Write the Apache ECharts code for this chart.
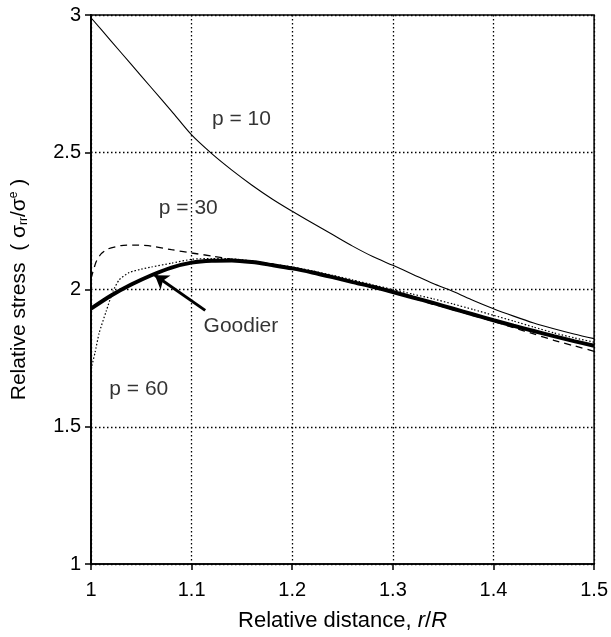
<!DOCTYPE html>
<html>
<head>
<meta charset="utf-8">
<script src="https://cdn.jsdelivr.net/npm/echarts@6/dist/echarts.min.js"></script>
<style>html,body{margin:0;padding:0;background:#fff;}#chart{width:611px;height:637px;}</style>
</head>
<body>
<div id="chart"></div>
<script>
// ---- data ----
var xTicks = [1, 1.1, 1.2, 1.3, 1.4, 1.5];
var yTicks = [1, 1.5, 2, 2.5, 3];

var p10X = [1.00, 1.02, 1.04, 1.06, 1.08, 1.10, 1.12, 1.14, 1.16, 1.18, 1.20, 1.22, 1.24, 1.26, 1.28, 1.30, 1.32, 1.34, 1.36, 1.38, 1.40, 1.42, 1.44, 1.46, 1.48, 1.50];
var p10Y = [2.99, 2.905, 2.82, 2.735, 2.65, 2.563, 2.495, 2.435, 2.38, 2.33, 2.285, 2.242, 2.20, 2.158, 2.12, 2.088, 2.055, 2.022, 1.993, 1.96, 1.93, 1.903, 1.878, 1.857, 1.838, 1.821];

var goodierX = [1.00, 1.02, 1.04, 1.06, 1.08, 1.10, 1.12, 1.14, 1.16, 1.18, 1.20, 1.22, 1.24, 1.26, 1.28, 1.30, 1.32, 1.34, 1.36, 1.38, 1.40, 1.42, 1.44, 1.46, 1.48, 1.50];
var goodierY = [1.93, 1.978, 2.018, 2.052, 2.08, 2.098, 2.105, 2.106, 2.1, 2.089, 2.077, 2.062, 2.045, 2.027, 2.01, 1.991, 1.971, 1.951, 1.93, 1.909, 1.888, 1.868, 1.849, 1.83, 1.812, 1.795];

var p30X = [1.000, 1.005, 1.010, 1.017, 1.03, 1.045, 1.06, 1.08, 1.10, 1.12, 1.14, 1.16, 1.18, 1.20, 1.22, 1.24, 1.26, 1.28, 1.30, 1.32, 1.34, 1.36, 1.38, 1.40, 1.42, 1.44, 1.46, 1.48, 1.50];
var p30Y = [2.04, 2.10, 2.13, 2.148, 2.16, 2.162, 2.158, 2.145, 2.133, 2.122, 2.11, 2.099, 2.088, 2.076, 2.061, 2.044, 2.026, 2.008, 1.99, 1.968, 1.947, 1.926, 1.905, 1.884, 1.861, 1.838, 1.815, 1.795, 1.775];

var p60X = [1.000, 1.004, 1.008, 1.015, 1.022, 1.028, 1.038, 1.05, 1.06, 1.08, 1.10, 1.12, 1.14, 1.16, 1.18, 1.20, 1.22, 1.24, 1.26, 1.28, 1.30, 1.32, 1.34, 1.36, 1.38, 1.40, 1.42, 1.44, 1.46, 1.48, 1.50];
var p60Y = [1.71, 1.77, 1.84, 1.92, 1.995, 2.035, 2.062, 2.074, 2.082, 2.096, 2.11, 2.113, 2.112, 2.104, 2.093, 2.082, 2.068, 2.052, 2.035, 2.017, 2.0, 1.983, 1.966, 1.947, 1.927, 1.906, 1.885, 1.863, 1.842, 1.824, 1.808];

var labelTexts = ['p = 10', 'p = 30', 'Goodier', 'p = 60'];
var labelX = [1.1495, 1.0967, 1.149, 1.0475];
var labelY = [2.62, 2.297, 1.865, 1.636];

var arrowFrom = [1.1135, 1.924];
var arrowTo = [1.0635, 2.052];

// ---- build ----
function pairs(xs, ys) { return xs.map(function (x, i) { return [x, ys[i]]; }); }
var FONT = '"Liberation Sans", Arial, sans-serif';

var chart = echarts.init(document.getElementById('chart'), null, { renderer: 'canvas' });
chart.setOption({
  backgroundColor: '#fff',
  animation: false,
  textStyle: { fontFamily: FONT, color: '#000' },
  grid: { left: 90, right: 14, top: 15, bottom: 71, show: true, borderColor: '#000', borderWidth: 1.5, containLabel: false },
  xAxis: {
    type: 'value', min: xTicks[0], max: xTicks[xTicks.length - 1], interval: 0.1,
    axisLine: { show: true, onZero: false, lineStyle: { color: '#000', width: 1.5 } },
    axisTick: { show: true, inside: false, length: 6, lineStyle: { color: '#000', width: 1.5 } },
    axisLabel: { color: '#000', fontSize: 20, fontFamily: FONT, margin: 16 },
    splitLine: { show: true, lineStyle: { color: '#000', type: [1.5, 2.5], width: 1.3 } },
    name: 'Relative distance, {i|r}/{i|R}',
    nameLocation: 'middle', nameGap: 46,
    nameTextStyle: { color: '#000', fontSize: 22, fontFamily: FONT, rich: { i: { fontStyle: 'italic', fontSize: 22, fontFamily: FONT, color: '#000' } } }
  },
  yAxis: {
    type: 'value', min: yTicks[0], max: yTicks[yTicks.length - 1], interval: 0.5,
    axisLine: { show: true, onZero: false, lineStyle: { color: '#000', width: 1.8 } },
    axisTick: { show: true, inside: false, length: 6, lineStyle: { color: '#000', width: 1.5 } },
    axisLabel: { color: '#000', fontSize: 20, fontFamily: FONT, margin: 10 },
    splitLine: { show: true, lineStyle: { color: '#000', type: [1.5, 2.5], width: 1.3 } },
    name: 'Relative stress  ( σ{sub|rr}/σ{sup|e} )',
    nameLocation: 'middle', nameGap: 61, nameRotate: 90,
    nameTextStyle: {
      color: '#000', fontSize: 21, fontFamily: FONT,
      rich: {
        sub: { fontSize: 12, fontFamily: FONT, color: '#000', verticalAlign: 'bottom', padding: [10, 0, 0, 0] },
        sup: { fontSize: 12, fontFamily: FONT, color: '#000', verticalAlign: 'top', padding: [0, 0, 10, 0] }
      }
    }
  },
  series: [
    { name: 'p = 10', type: 'line', data: pairs(p10X, p10Y), showSymbol: false, symbol: 'none', smooth: 0.3,
      lineStyle: { color: '#000', width: 1.1 }, z: 3 },
    { name: 'p = 30', type: 'line', data: pairs(p30X, p30Y), showSymbol: false, symbol: 'none', smooth: 0.2,
      lineStyle: { color: '#000', width: 1.3, type: [7, 5] }, z: 3 },
    { name: 'p = 60', type: 'line', data: pairs(p60X, p60Y), showSymbol: false, symbol: 'none', smooth: 0.2,
      lineStyle: { color: '#000', width: 1.2, type: [1.5, 2] }, z: 3 },
    { name: 'Goodier', type: 'line', data: pairs(goodierX, goodierY), showSymbol: false, symbol: 'none', smooth: 0.3,
      lineStyle: { color: '#000', width: 4 }, z: 4,
      markLine: {
        silent: true, animation: false,
        symbol: ['none', 'arrow'], symbolSize: 13,
        lineStyle: { color: '#000', width: 3, type: 'solid' },
        itemStyle: { color: '#000' },
        label: { show: false },
        emphasis: { disabled: true },
        data: [[{ coord: arrowFrom }, { coord: arrowTo }]]
      }
    },
    { name: 'labels', type: 'scatter', symbolSize: 0, z: 5,
      data: labelTexts.map(function (t, i) { return { value: [labelX[i], labelY[i]], name: t }; }),
      label: { show: true, position: 'inside', formatter: '{b}', color: '#000', fontSize: 21, fontFamily: FONT },
      itemStyle: { color: 'transparent' }
    }
  ]
});
</script>
</body>
</html>
